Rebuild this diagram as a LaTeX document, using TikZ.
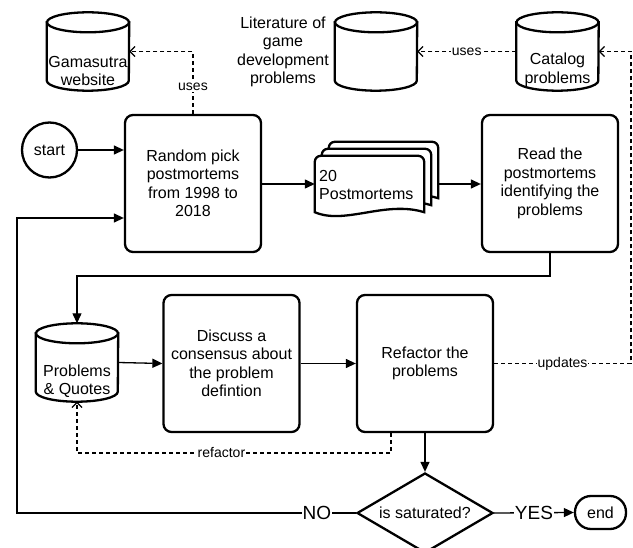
\documentclass[tikz,border=0pt]{standalone}
\usepackage{fontspec}
\setmainfont{Liberation Sans}
\usetikzlibrary{shapes.geometric,arrows.meta,calc}
\newcommand\cylshape[1]{%
  \draw[shapeline,fill=white] ($(#1.north west)+(0pt,-10pt)$) -- ($(#1.south west)+(0pt,10pt)$)
     arc[start angle=180,end angle=360,x radius=41pt,y radius=10pt] -- ($(#1.north east)+(0pt,-10pt)$) -- cycle;
  \draw[shapeline,fill=white] ($(#1.north)+(0pt,-10pt)$) ellipse[x radius=41pt,y radius=10pt];}
\newcommand\docsheet[2]{%
  \draw[shapeline,fill=white] ([shift={(#1,#2)}]docs.south west) [rounded corners=6pt] -- ([shift={(#1,#2)}]docs.north west)
     -- ([shift={(#1,#2)}]docs.north east) [sharp corners] -- ([shift={(#1,#2)}]docs.south east)
     .. controls +(-39,-12) and ([shift={(#1+30,#2+13)}]docs.south west) .. ([shift={(#1,#2)}]docs.south west) -- cycle;}
\begin{document}
\begin{tikzpicture}[x=1pt,y=-1pt,
  font=\fontsize{16}{18.5}\selectfont,
  shapeline/.style={draw,line width=2.3pt},
  box/.style={shapeline, rounded corners=8pt, minimum width=136pt, minimum height=137pt, align=center, inner sep=0pt, fill=white},
  cylbox/.style={minimum width=82pt, minimum height=78pt, inner sep=0pt},
  txt/.style={align=center, inner sep=0pt},
  lbl/.style={fill=white, inner sep=1pt, font=\fontsize{14}{16}\selectfont},
  lblbig/.style={fill=white, inner sep=1pt, font=\fontsize{19}{21}\selectfont},
  flow/.style={line width=1.3pt, -{Triangle[length=10pt,width=9pt]}},
  dflow/.style={line width=1.2pt, dash pattern=on 4pt off 3pt, -{Straight Barb[length=5pt,width=10pt]}}]
\fill[white] (0,0) rectangle (633,548);
\useasboundingbox (0,0) rectangle (633,548);

% cylinders
\node[cylbox] (gama) at (88,51.5) {};
\node[cylbox] (lit) at (376,51.5) {};
\node[cylbox] (cat) at (557.5,51.5) {};
\node[cylbox] (pq) at (77,362.5) {};
\cylshape{gama}\cylshape{lit}\cylshape{cat}\cylshape{pq}
\node[txt] (gamat) at (88,71) {Gamasutra\\website};
\node[txt] (litt) at (283,52) {Literature of\\game\\development\\problems};
\node[txt] (catt) at (557.5,70) {Catalog\\problems};
\node[txt] (pqt) at (77,381) {Problems\\\& Quotes};

% process nodes
\node[circle, shapeline, minimum size=55pt, inner sep=0pt] (start) at (49.5,150) {start};
\node[box] (rand) at (193,183.5) {Random pick\\postmortems\\from 1998 to\\2018};
\node[box] (read) at (550,183.5) {Read the\\postmortems\\identifying the\\problems};
\node[box] (disc) at (231.5,363.5) {Discuss a\\consensus about\\the problem\\defintion};
\node[box] (refac) at (425,363.5) {Refactor the\\problems};
\node[diamond, shapeline, aspect=1.7, minimum width=136pt, minimum height=80pt, inner sep=0pt] (sat) at (425,513) {is saturated?};
\node[shapeline, rounded corners=16pt, minimum width=51pt, minimum height=33pt, inner sep=0pt] (fin) at (600.5,512.5) {end};

% documents
\node[minimum width=109pt, minimum height=56pt, inner sep=0pt] (docs) at (369.5,184) {};
\docsheet{14}{-14}\docsheet{7}{-7}\docsheet{0}{0}
\node[txt, align=left, anchor=west] (docst) at (319,185) {20\\Postmortems};

% connectors
\draw[flow] (start.east) -- (start.east -| rand.west);
\draw[flow] (rand.east |- docs.west) -- (docs.west);
\draw[flow] ([xshift=14pt]docs.east) -- (read.west |- docs.east);
\draw[flow] (read.south) -- ++(0,23) -| (pq.north);
\draw[flow] (pq.east) -- (disc.west);
\draw[flow] (disc.east) -- (refac.west);
\draw[flow] (refac.south) -- (sat.north);
\draw[flow] (sat.east) -- node[lblbig]{YES} (fin.west);
\coordinate (lpA) at (17,513);
\coordinate (lpB) at (17,218);
\draw[flow] (sat.west) -- node[lblbig, pos=0.115]{NO} (lpA) -- (lpB) -- (lpB -| rand.west);

% dashed
\draw[dflow] (rand.north) -- node[lbl,pos=0.43]{uses} (rand.north |- gama.east) -- (gama.east);
\draw[dflow] (cat.west) -- node[lbl]{uses} (lit.east);
\coordinate (upd) at (631,0);
\draw[dflow] (refac.east) -- node[lbl]{updates} (refac.east -| upd) -- (upd |- cat.east) -- (cat.east);
\coordinate (rfA) at (391,453);
\draw[dflow] (rfA |- refac.south) -- (rfA) -- node[lbl,pos=0.54]{refactor} (rfA -| pq.south) -- (pq.south);
\end{tikzpicture}
\end{document}
